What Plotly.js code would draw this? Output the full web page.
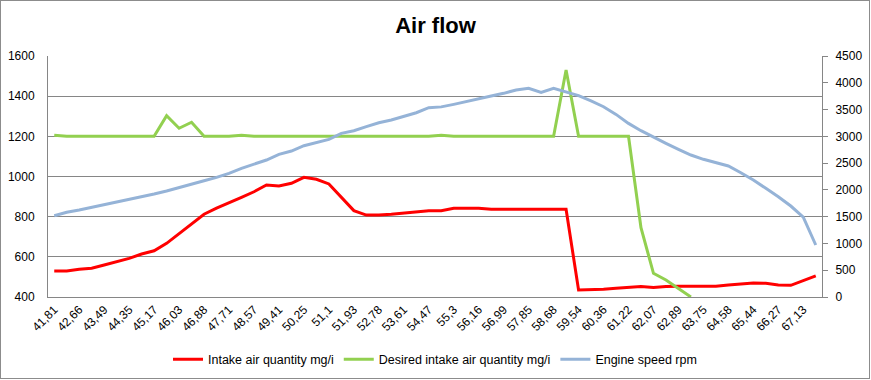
<!DOCTYPE html>
<html>
<head>
<meta charset="utf-8">
<script src="https://cdn.plot.ly/plotly-3.0.1.min.js"></script>
<style>
  html, body { margin: 0; padding: 0; background: #fff; }
  #wrap { position: relative; width: 871px; height: 380px; }
  #chart { width: 871px; height: 380px; }
  #frame { position: absolute; left: 0; top: 0; width: 868px; height: 377px; border: 1px solid #8c8c8c; pointer-events: none; }
</style>
</head>
<body>
<div id="wrap"><div id="chart"></div><div id="frame"></div></div>
<script>
// Category labels (time, s) – every other one is shown on the axis
const categories = [
  "41,81","42,24","42,66","43,08","43,49","43,92","44,35","44,76","45,17","45,6",
  "46,03","46,46","46,88","47,3","47,71","48,14","48,57","48,99","49,41","49,83",
  "50,25","50,68","51,1","51,52","51,93","52,36","52,78","53,2","53,61","54,04",
  "54,47","54,89","55,3","55,73","56,16","56,58","56,99","57,42","57,85","58,27",
  "58,68","59,11","59,54","59,95","60,36","60,79","61,22","61,65","62,07","62,48",
  "62,89","63,32","63,75","64,17","64,58","65,01","65,44","65,86","66,27","66,7",
  "67,13","67,55"
];

// Intake air quantity mg/i (left axis)
const intakeAir = [
  530,530,538,543,559,576,592,614,630,667,
  714,762,812,842,867,896,924,958,953,966,
  996,986,963,896,830,808,808,812,817,825,
  830,830,842,842,842,837,837,837,837,837,
  837,837,435,435,438,443,448,452,447,452,
  453,453,453,453,460,466,470,468,460,458,
  481,505
];

// Desired intake air quantity mg/i (left axis)
const desiredAir = [
  1205,1200,1200,1200,1200,1200,1200,1200,1200,1303,
  1240,1270,1200,1200,1200,1205,1200,1200,1200,1200,
  1200,1200,1200,1200,1200,1200,1200,1200,1200,1200,
  1200,1205,1200,1200,1200,1200,1200,1200,1200,1200,
  1200,1530,1200,1200,1200,1200,1200,745,518,485,
  443,400,null,null,null,null,null,null,null,null,
  null,null
];

// Engine speed rpm (right axis)
const engineSpeed = [
  1518,1581,1624,1674,1718,1761,1811,1873,1923,1979,
  2048,2110,2172,2234,2309,2402,2477,2558,2664,2726,
  2825,2881,2944,3056,3105,3180,3254,3304,3366,3441,
  3534,3550,3597,3653,3709,3752,3803,3865,3896,3821,
  3896,3833,3760,3660,3553,3410,3242,3105,2981,2869,
  2757,2651,2571,2508,2446,2321,2184,2029,1873,1699,
  1490,971
];

const leftTicks = [400, 600, 800, 1000, 1200, 1400, 1600];
const rightTicks = [0, 500, 1000, 1500, 2000, 2500, 3000, 3500, 4000, 4500];

const FONT = "Liberation Sans, Arial, sans-serif";
const shownTicks = categories.filter((c, i) => i % 2 === 0);

const traces = [
  { x: categories, y: intakeAir, name: "Intake air quantity mg/i", type: "scatter", mode: "lines",
    line: { color: "#FF0000", width: 3 }, yaxis: "y" },
  { x: categories, y: desiredAir, name: "Desired intake air quantity mg/i", type: "scatter", mode: "lines",
    line: { color: "#92D050", width: 3 }, yaxis: "y", connectgaps: false },
  { x: categories, y: engineSpeed, name: "Engine speed rpm", type: "scatter", mode: "lines",
    line: { color: "#95B3D7", width: 3 }, yaxis: "y2" }
];

const layout = {
  width: 871, height: 380,
  margin: { l: 48, r: 49, t: 56, b: 83, autoexpand: false },
  paper_bgcolor: "#fff", plot_bgcolor: "#fff",
  font: { family: FONT, size: 12, color: "#000" },
  title: { text: "<b>Air flow</b>", x: 0.5, xanchor: "center", y: 0.934, yanchor: "middle",
           font: { family: FONT, size: 22, color: "#000" } },
  showlegend: true,
  legend: { orientation: "h", x: 0.5, xanchor: "center", y: -0.26, yanchor: "middle",
            font: { family: FONT, size: 12.5, color: "#000" }, traceorder: "normal" },
  xaxis: {
    type: "category", range: [-0.5, categories.length - 0.5], automargin: false,
    tickmode: "array", tickvals: shownTicks, ticktext: shownTicks,
    tickangle: -45, ticks: "", showgrid: false,
    showline: true, linecolor: "#868686", linewidth: 1,
    tickfont: { family: FONT, size: 12, color: "#000" }, fixedrange: true
  },
  yaxis: {
    range: [400, 1600], tickvals: leftTicks, ticks: "", automargin: false,
    showgrid: true, gridcolor: "#868686", gridwidth: 1,
    showline: true, linecolor: "#868686", linewidth: 1, zeroline: false,
    ticklabelstandoff: 10,
    tickfont: { family: FONT, size: 12, color: "#000" }
  },
  yaxis2: {
    range: [0, 4500], tickvals: rightTicks, overlaying: "y", side: "right", automargin: false,
    showgrid: false, zeroline: false,
    showline: true, linecolor: "#868686", linewidth: 1,
    ticks: "outside", ticklen: 5, tickcolor: "#868686",
    ticklabelstandoff: 5,
    tickfont: { family: FONT, size: 12, color: "#000" }
  }
};

Plotly.newPlot("chart", traces, layout, { displayModeBar: false, staticPlot: true });
</script>
</body>
</html>
